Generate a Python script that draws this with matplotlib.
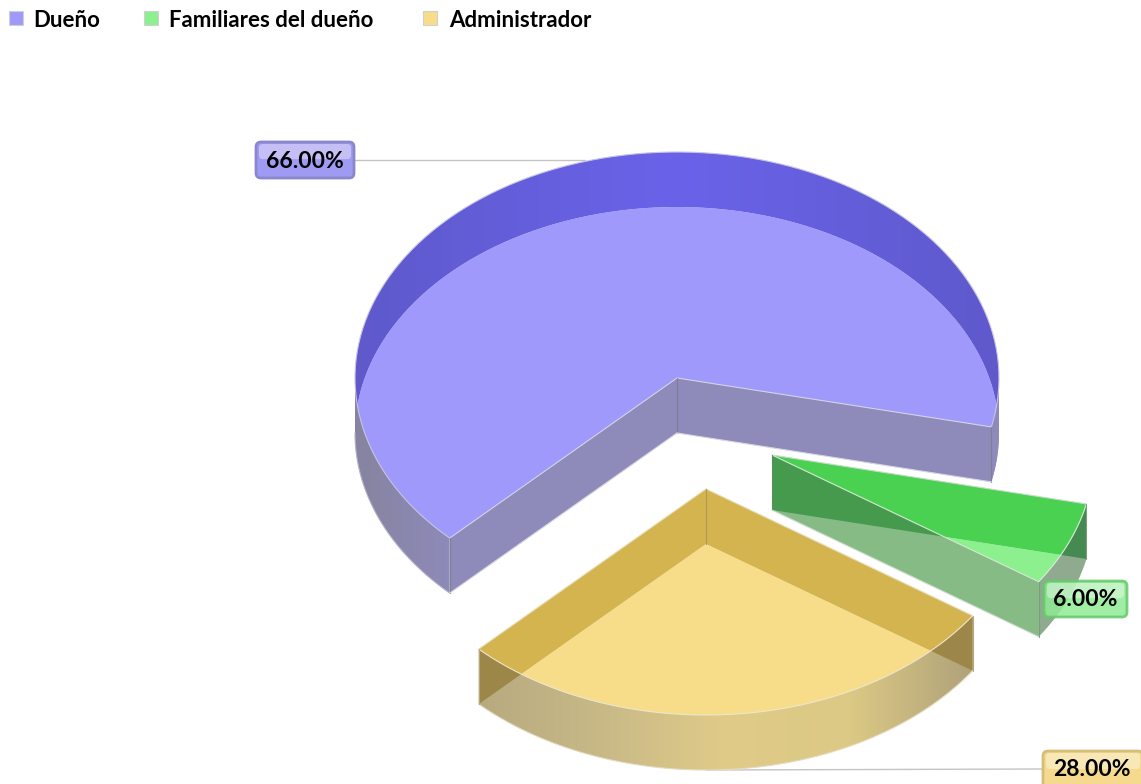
import numpy as np
import matplotlib
matplotlib.use("Agg")
import matplotlib.pyplot as plt
from matplotlib.patches import Polygon, FancyBboxPatch, Rectangle
from matplotlib.colors import LinearSegmentedColormap

categories = ["Dueño", "Familiares del dueño", "Administrador"]
values = [66.0, 6.0, 28.0]
value_labels = ["66.00%", "6.00%", "28.00%"]

W, H = 1141, 784
fig = plt.figure(figsize=(W / 100, H / 100), dpi=100)
ax = fig.add_axes([0, 0, 1, 1])
ax.set_xlim(0, W)
ax.set_ylim(H, 0)
ax.axis("off")

RX, RY, DEPTH = 322, 226, 55
FONT = "Lato"
START = -12.5
span = [v / 100 * 360 for v in values]
blue_range = (START, START + span[0])
green_range = (START - span[1], START)
yellow_range = (START - span[1] - span[2], START - span[1])


def arc(c, t0, t1, dz=0, n=120):
    t = np.radians(np.linspace(t0, t1, n))
    return np.column_stack([c[0] + RX * np.cos(t), c[1] + dz - RY * np.sin(t)])


def pt(c, t, dz=0):
    return arc(c, t, t, dz, 1)[0]


def wedge(c, t0, t1, dz=0):
    return np.vstack([[c[0], c[1] + dz], arc(c, t0, t1, dz)])


def rim_wall(c, t0, t1):
    return np.vstack([arc(c, t0, t1), arc(c, t1, t0, DEPTH)])


def radial_wall(c, t):
    return np.array([c, pt(c, t), pt(c, t, DEPTH), [c[0], c[1] + DEPTH]])


def poly(pts, color, z, clip=None):
    p = Polygon(pts, closed=True, facecolor=color, edgecolor="none", zorder=z)
    ax.add_patch(p)
    if clip is not None:
        p.set_clip_path(Polygon(clip, closed=True, transform=ax.transData))
    return p


def grad(pts, stops, z):
    xs = pts[:, 0]
    cm = LinearSegmentedColormap.from_list("g", stops)
    arr = np.linspace(0, 1, 256)[None, :]
    im = ax.imshow(arr, cmap=cm, extent=(xs.min(), xs.max(), pts[:, 1].max(), pts[:, 1].min()),
                   aspect="auto", zorder=z, interpolation="bilinear")
    im.set_clip_path(Polygon(pts, closed=True, transform=ax.transData))
    ax.set_xlim(0, W)
    ax.set_ylim(H, 0)


def line(pts, color="#cfcfd8", lw=0.8, z=9):
    pts = np.asarray(pts)
    ax.plot(pts[:, 0], pts[:, 1], color=color, lw=lw, zorder=z, solid_capstyle="round")


# ---- Dueño
c = (677, 378)
t0, t1 = blue_range
poly(wedge(c, t0, t1, DEPTH), "#9f99fb", 2)
grad(rim_wall(c, 0, 180), ["#5f59cc", "#6a63ea", "#5f59cc"], 3)
poly(radial_wall(c, t0), "#8e8ab9", 4)
poly(radial_wall(c, t1), "#8e8ab9", 4)
grad(rim_wall(c, 180, t1), ["#86849f", "#8e8ab9"], 4)
poly(rim_wall(c, t0, 0), "#8e8ab9", 4)
line(np.vstack([pt(c, t1), c, pt(c, t0)]), "#d4d4e6")
line(arc(c, t0, t1), "#c6c5e2")
line(np.vstack([arc(c, 180, t1, DEPTH), pt(c, t1)]), "#b4b3c8")
line([c, (c[0], c[1] + DEPTH)], "#7f7f96")
line([pt(c, t1), pt(c, t1, DEPTH)], "#7f7f96")
line([pt(c, t0), pt(c, t0, DEPTH)], "#7f7f96")
line(np.vstack([(c[0], c[1] + DEPTH), pt(c, t0, DEPTH)]), "#d8d8e4")
line(np.vstack([(c[0], c[1] + DEPTH), pt(c, t1, DEPTH)]), "#d8d8e4")

# ---- Familiares del dueño
c = (772, 455)
t0, t1 = green_range
poly(wedge(c, t0, t1, DEPTH), "#8cf08f", 2)
upper = radial_wall(c, t1)
poly(upper, "#4bd152", 3)
lower = radial_wall(c, t0)
poly(lower, "#86bb86", 4)
poly(upper, "#459a4d", 5, clip=lower)
front = rim_wall(c, t0, t1)
poly(front, "#8faa8f", 4)
poly(upper, "#458a50", 5, clip=front)
line([c, pt(c, t1)], "#c8dcc8")
line([c, pt(c, t0)], "#d4e8d4")
line(arc(c, t0, t1), "#d8ecd8")
line([pt(c, t0), pt(c, t0, DEPTH)], "#7f9a7f")
line([pt(c, t1), pt(c, t1, DEPTH)], "#7f9a7f")
line([c, (c[0], c[1] + DEPTH)], "#5f8a5f")
line(np.vstack([(c[0], c[1] + DEPTH), pt(c, t0, DEPTH)]), "#d0dcd0")

# ---- Administrador
c = (706, 489)
t0, t1 = yellow_range
poly(wedge(c, t0, t1, DEPTH), "#f7dd8a", 2)
w0, w1 = radial_wall(c, t0), radial_wall(c, t1)
poly(w0, "#d4b44e", 3)
poly(w1, "#d4b44e", 3)
front = rim_wall(c, t0, t1)
grad(front, ["#b8aa80", "#c8b987", "#e0cb88", "#dcc985", "#b0a27a"], 4)
poly(w0, "#9c8748", 5, clip=front)
poly(w1, "#9c8748", 5, clip=front)
line([c, pt(c, t0)], "#e6dcb8")
line([c, pt(c, t1)], "#e6dcb8")
line(arc(c, t0, t1), "#eee6cc")
line(arc(c, t0, t1, DEPTH), "#e4dcc4")
line([c, (c[0], c[1] + DEPTH)], "#b09a50")
line([pt(c, t0), pt(c, t0, DEPTH)], "#b0a888")
line([pt(c, t1), pt(c, t1, DEPTH)], "#b0a888")

# ---- Leader lines
line([(355, 160), (585, 160)], "#c4c4c4", 1.0, 1)
line([(706, 770), (1042, 769)], "#c4c4c4", 1.0, 1)

# ---- Value labels
boxes = [
    (256, 142, 98, 36, "#a09bf2", "#8b87cf", 1.0, 305, 161),
    (1044, 581, 83, 36, "#8fea94", "#66c86c", 0.85, 1085, 600),
    (1043, 751, 100, 38, "#f5d98c", "#d6bd78", 1.0, 1092, 770),
]
for (x, y, w, h, fc, ec, a, tx, ty), lab in zip(boxes, value_labels):
    ax.add_patch(FancyBboxPatch((x, y), w, h, boxstyle="round,pad=0,rounding_size=5",
                                fc=fc, ec=ec, lw=2.0, alpha=a, zorder=12))
    ax.add_patch(FancyBboxPatch((x + 3, y + 2), w - 6, h * 0.42, boxstyle="round,pad=0,rounding_size=4",
                                fc="white", ec="none", alpha=0.38, zorder=13))
    ax.text(tx, ty, lab, ha="center", va="center", fontsize=16.5, family=FONT, color="black",
            fontweight="bold", zorder=14)

# ---- Legend
leg_x = [9, 144, 423]
txt_x = [33, 169, 449]
leg_col = ["#9f99fb", "#8cf08f", "#f7dd8a"]
for lx, tx, col, name in zip(leg_x, txt_x, leg_col, categories):
    ax.add_patch(Rectangle((lx, 11), 14, 14, fc=col, ec="#d0d0d0", lw=0.8, zorder=12))
    ax.text(tx, 20, name, ha="left", va="center", fontsize=16, family=FONT, fontweight="bold",
            color="black", zorder=14)

fig.savefig("out.png", dpi=100, facecolor="white")
